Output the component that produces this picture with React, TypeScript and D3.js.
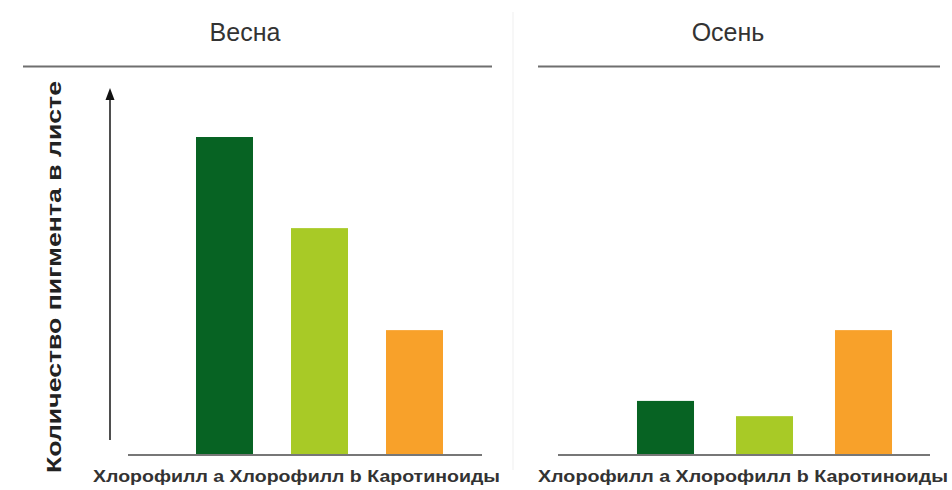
import React, { useRef, useEffect } from "react";
import * as d3 from "d3";

// Pigment data, relative units
const categories = ["Хлорофилл а", "Хлорофилл b", "Каротиноиды"];
const springValues = [87.6, 62.5, 34.4];
const autumnValues = [14.9, 10.7, 34.4];
const barColors = ["#076323", "#a8ca26", "#f8a12a"];
const panelTitles = ["Весна", "Осень"];
const yAxisTitle = "Количество пигмента в листе";

const App = () => {
  const ref = useRef<SVGSVGElement>(null);

  useEffect(() => {
    const svg = d3.select(ref.current);
    svg.selectAll("*").remove();

    const width = 952;
    const height = 490;
    const baseY = 455;
    const font = "Liberation Sans, Arial, sans-serif";

    svg.attr("width", width).attr("height", height);

    svg.append("rect").attr("width", width).attr("height", height).attr("fill", "#fff");

    const yScale = d3.scaleLinear().domain([0, 100]).range([baseY, 92]);

    const panels = [
      {
        title: panelTitles[0],
        values: springValues,
        titleX: 245,
        topLine: [23, 492],
        base: [128, 482],
        bandRange: [177, 462],
        inner: 0.4,
        labelStart: 93,
        labelWidth: 407,
      },
      {
        title: panelTitles[1],
        values: autumnValues,
        titleX: 728,
        topLine: [538, 940],
        base: [558, 930],
        bandRange: [616, 913],
        inner: 0.424,
        labelStart: 538,
        labelWidth: 410,
      },
    ];

    // faint panel separator
    svg
      .append("line")
      .attr("x1", 513)
      .attr("x2", 513)
      .attr("y1", 12)
      .attr("y2", 470)
      .attr("stroke", "#f5f5f5")
      .attr("stroke-width", 1.5);

    panels.forEach((p) => {
      const g = svg.append("g");

      g.append("text")
        .attr("x", p.titleX)
        .attr("y", 41)
        .attr("text-anchor", "middle")
        .attr("font-family", font)
        .attr("font-size", 25)
        .attr("fill", "#333")
        .text(p.title);

      g.append("line")
        .attr("x1", p.topLine[0])
        .attr("x2", p.topLine[1])
        .attr("y1", 66.5)
        .attr("y2", 66.5)
        .attr("stroke", "#6f6f6f")
        .attr("stroke-width", 2);

      const xScale = d3
        .scaleBand<string>()
        .domain(categories)
        .range(p.bandRange as [number, number])
        .paddingInner(p.inner)
        .paddingOuter(p.inner / 2);

      g.selectAll(".bar")
        .data(p.values)
        .enter()
        .append("rect")
        .attr("class", "bar")
        .attr("x", (_d, i) => xScale(categories[i]) as number)
        .attr("y", (d) => yScale(d))
        .attr("width", xScale.bandwidth())
        .attr("height", (d) => yScale(0) - yScale(d))
        .attr("fill", (_d, i) => barColors[i]);

      g.append("line")
        .attr("x1", p.base[0])
        .attr("x2", p.base[1])
        .attr("y1", baseY)
        .attr("y2", baseY)
        .attr("stroke", "#777")
        .attr("stroke-width", 2);

      g.append("text")
        .attr("x", p.labelStart)
        .attr("y", 482)
        .attr("font-family", font)
        .attr("font-size", 16.5)
        .attr("font-weight", "bold")
        .attr("fill", "#333")
        .attr("textLength", p.labelWidth)
        .attr("lengthAdjust", "spacingAndGlyphs")
        .text(categories.join(" "));
    });

    // y arrow
    const top = yScale(100);
    svg
      .append("line")
      .attr("x1", 110)
      .attr("x2", 110)
      .attr("y1", 440)
      .attr("y2", top + 6)
      .attr("stroke", "#222")
      .attr("stroke-width", 1.6);

    svg
      .append("path")
      .attr("d", `M${110},${top - 4} L${114.5},${top + 8} L${105.5},${top + 8} Z`)
      .attr("fill", "#111");

    svg
      .append("text")
      .attr("transform", "translate(61,277) rotate(-90)")
      .attr("text-anchor", "middle")
      .attr("font-family", font)
      .attr("font-size", 21)
      .attr("font-weight", "bold")
      .attr("fill", "#222")
      .attr("textLength", 392)
      .attr("lengthAdjust", "spacingAndGlyphs")
      .text(yAxisTitle);
  }, []);

  return (
    <svg
      ref={ref}
      style={{ position: "absolute", left: 0, top: 0, display: "block" }}
    />
  );
};

export default App;
